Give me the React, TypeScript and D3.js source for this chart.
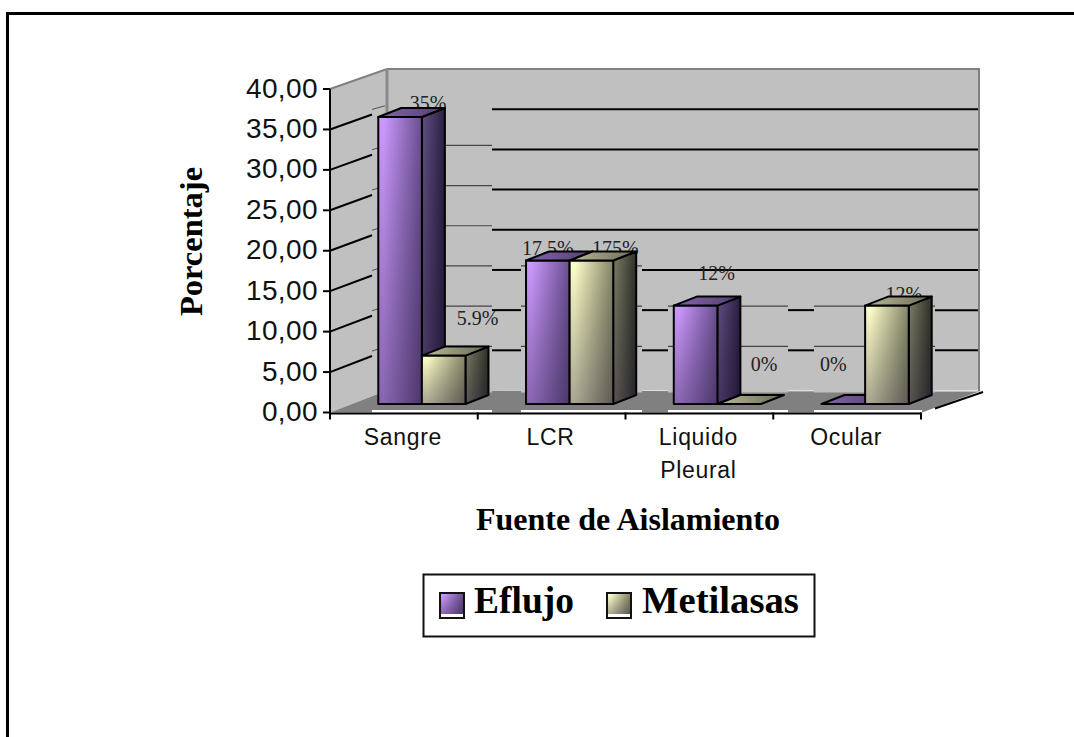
import React from "react";
import * as d3 from "d3";

// Chart data
const categories = ["Sangre", "LCR", "Liquido Pleural", "Ocular"];
const seriesNames = ["Eflujo", "Metilasas"];
const eflujoValues = [35, 17.5, 12, 0];
const metilasasValues = [5.9, 17.5, 0, 12];
const eflujoLabels = ["35%", "17.5%", "12%", "0%"];
const metilasasLabels = ["5.9%", "175%", "0%", "12%"];
const yTicks = [0, 5, 10, 15, 20, 25, 30, 35, 40];

const WIDTH = 1074;
const HEIGHT = 737;
const SERIF = "'Liberation Serif', 'Times New Roman', serif";
const SANS = "'Liberation Sans', Arial, sans-serif";

// Scales for the three planes of the 3-D box: front edge, back wall and bar fronts
const yAxis = d3.scaleLinear().domain([0, 40]).range([412.5, 89]);
const yWall = d3.scaleLinear().domain([0, 40]).range([390.5, 69]);
const yBar = d3.scaleLinear().domain([0, 40]).range([404, 76]);
const xAxis = d3.scaleBand<string>().domain(categories).range([330, 921]);
const xGroup = d3.scaleBand<string>().domain(categories).range([348, 939]).paddingInner(0.41).paddingOuter(0.205);
const xSeries = d3.scaleBand<string>().domain(seriesNames).range([0, xGroup.bandwidth()]);

const DEPTH_X = 23;
const DEPTH_Y = 9;
const WALL_LEFT = 387;
const WALL_RIGHT = 979;

// Floor and gridlines are broken into alternating strips across the plot
const thinStrips: [number, number][] = [[372, 492], [521, 642], [668, 788], [814, 935]];

const poly = d3.line<[number, number]>();
const closed = (pts: [number, number][]) => poly(pts) + "Z";

type Spec = { dx: number; lift: number };
// Where each value label sits relative to its bar
const eflujoLabelSpots: Spec[] = [{ dx: 28, lift: 7 }, { dx: 0, lift: 5.5 }, { dx: 21, lift: 25.5 }, { dx: -10, lift: 33 }];
const metilasasLabelSpots: Spec[] = [{ dx: 34, lift: 30.5 }, { dx: 24, lift: 5.5 }, { dx: 25, lift: 33 }, { dx: 17, lift: 5 }];

const palette = [
  { key: "e", a: "#cc99ff", b: "#6a4f90", sa: "#635085", sb: "#2a1f42", ta: "#8463ad", tb: "#54406f" },
  { key: "m", a: "#ffffcc", b: "#86866a", sa: "#80806a", sb: "#30302a", ta: "#b8b898", tb: "#6c6c58" },
];

function Defs() {
  return (
    <defs>
      {palette.map((p) => (
        <React.Fragment key={p.key}>
          <linearGradient id={`front-${p.key}`} x1="0" x2="1" y1="0" y2="0">
            <stop offset="0.12" stopColor={p.a} />
            <stop offset="1" stopColor={p.b} />
          </linearGradient>
          <linearGradient id={`side-${p.key}`} x1="0" x2="1" y1="0" y2="0">
            <stop offset="0" stopColor={p.sa} />
            <stop offset="1" stopColor={p.sb} />
          </linearGradient>
          <linearGradient id={`top-${p.key}`} x1="0" x2="1" y1="0" y2="0">
            <stop offset="0" stopColor={p.ta} />
            <stop offset="1" stopColor={p.tb} />
          </linearGradient>
        </React.Fragment>
      ))}
      <linearGradient id="shade" x1="0" x2="0" y1="0" y2="1">
        <stop offset="0" stopColor="#000" stopOpacity="0" />
        <stop offset="1" stopColor="#1a1030" stopOpacity="0.38" />
      </linearGradient>
    </defs>
  );
}

function Bar({ x, w, value, k }: { x: number; w: number; value: number; k: string }) {
  const top = yBar(value);
  const base = yBar(0);
  const front: [number, number][] = [[x, top], [x + w, top], [x + w, base], [x, base]];
  const side: [number, number][] = [[x + w, top], [x + w + DEPTH_X, top - DEPTH_Y], [x + w + DEPTH_X, base - DEPTH_Y], [x + w, base]];
  const cap: [number, number][] = [[x, top], [x + DEPTH_X, top - DEPTH_Y], [x + w + DEPTH_X, top - DEPTH_Y], [x + w, top]];
  return (
    <g stroke="#000" strokeWidth={2} strokeLinejoin="round">
      {value > 0 && (
        <>
          <path d={closed(side)} fill={`url(#side-${k})`} />
          <path d={closed(side)} fill="url(#shade)" stroke="none" />
          <path d={closed(front)} fill={`url(#front-${k})`} />
          <path d={closed(front)} fill="url(#shade)" stroke="none" />
        </>
      )}
      <path d={closed(cap)} fill={`url(#top-${k})`} />
    </g>
  );
}

export default function App() {
  const rows = [
    { name: seriesNames[0], k: "e", values: eflujoValues, labels: eflujoLabels, spots: eflujoLabelSpots },
    { name: seriesNames[1], k: "m", values: metilasasValues, labels: metilasasLabels, spots: metilasasLabelSpots },
  ];
  const grid = yTicks.filter((t) => t > 0 && t < 40);

  return (
    <svg width={WIDTH} height={HEIGHT} style={{ position: "absolute", left: 0, top: 0 }}>
      <Defs />
      <rect width={WIDTH} height={HEIGHT} fill="#fff" />
      {/* Outer frame: open on the right and at the bottom */}
      <path d={`M7.5 ${HEIGHT}V13.5H${WIDTH}`} fill="none" stroke="#000" strokeWidth={3} />

      {/* Walls */}
      <path d={closed([[330, yAxis(40)], [WALL_LEFT, yWall(40)], [WALL_LEFT, yWall(0)], [330, yAxis(0)]])} fill="#c0c0c0" />
      <rect x={WALL_LEFT} y={yWall(40)} width={WALL_RIGHT - WALL_LEFT} height={yWall(0) - yWall(40)} fill="#c0c0c0" />
      <path d={closed([[330, yAxis(0)], [WALL_LEFT, yWall(0)], [WALL_RIGHT, yWall(0) + 1], [922, yAxis(0)]])} fill="#808080" />
      {thinStrips.map(([a, b]) => (
        <g key={a}>
          <rect x={a} y={yWall(0) - 2} width={b - a} height={4} fill="#c0c0c0" />
          <rect x={a} y={yAxis(0) - 2.5} width={Math.min(b, 922) - a} height={2.5} fill="#fff" />
        </g>
      ))}
      <path d={`M330 ${yAxis(40)}L${WALL_LEFT} ${yWall(40)}H${WALL_RIGHT}V${yWall(0) + 1}`} fill="none" stroke="#808080" strokeWidth={2} />
      <path d={`M${WALL_LEFT} ${yWall(40)}V${yWall(0)}`} fill="none" stroke="#8a8a8a" strokeWidth={3} />

      {/* Gridlines on the side wall */}
      {grid.map((t) => {
        const x0 = 330;
        const y0 = yAxis(t);
        const yb = yWall(t);
        const at = (f: number) => y0 + (yb - y0) * f;
        return (
          <g key={t} fill="none">
            <path d={`M${x0} ${y0}L372 ${at(0.74)}`} stroke="#000" strokeWidth={2} />
            <path d={`M372 ${at(0.74) - 5}L385 ${at(0.97) - 4}`} stroke="#555" strokeWidth={1} />
          </g>
        );
      })}

      {/* Gridlines on the back wall */}
      {grid.map((t) => {
        const y = yWall(t);
        const strips = t <= 10 ? thinStrips.slice(1) : t === 15 ? thinStrips.slice(1, 2) : [];
        const thin = t < 35 ? [[443, 492] as [number, number], ...strips] : [];
        let cursor = 492;
        const thick: [number, number][] = [];
        strips.forEach(([a, b]) => {
          thick.push([cursor, a]);
          cursor = b;
        });
        thick.push([cursor, WALL_RIGHT - 1]);
        return (
          <g key={t} fill="none">
            {thick.map(([a, b]) => (
              <path key={a} d={`M${a} ${y}H${b}`} stroke="#000" strokeWidth={2} />
            ))}
            {thin.map(([a, b]) => (
              <path key={a} d={`M${a} ${y - 4}H${b}`} stroke="#444" strokeWidth={1.2} />
            ))}
          </g>
        );
      })}

      {/* Value labels sit behind the bars, which cover parts of them */}
      <g fontFamily={SERIF} fontSize={20} fill="#222" textAnchor="middle">
        {rows.map((r) =>
          categories.map((c, i) => (
            <text
              key={r.k + c}
              x={xGroup(c)! + xSeries(r.name)! + xSeries.bandwidth() / 2 + r.spots[i].dx}
              y={yBar(r.values[i]) - r.spots[i].lift}
            >
              {r.labels[i]}
            </text>
          )),
        )}
      </g>

      {/* Bars */}
      {categories.map((c, i) =>
        rows.map((r) => (
          <Bar key={r.k + c} x={xGroup(c)! + xSeries(r.name)!} w={xSeries.bandwidth()} value={r.values[i]} k={r.k} />
        )),
      )}

      {/* Axes */}
      <g stroke="#000" strokeWidth={2} fill="none">
        <path d={`M330 ${yAxis(40)}V${yAxis(0) + 1}H${xAxis.range()[1]}`} />
        <path d={`M935 408.5L983 392`} />
        {yTicks.map((t) => (
          <path key={t} d={`M323 ${yAxis(t)}H330`} />
        ))}
        {[...categories.map((c) => xAxis(c)!), xAxis.range()[1]].map((x) => (
          <path key={x} d={`M${x} ${yAxis(0)}V${yAxis(0) + 7}`} />
        ))}
      </g>
      <g fontFamily={SANS} fontSize={28} fill="#111" textAnchor="end" letterSpacing={0.4}>
        {yTicks.map((t) => (
          <text key={t} x={318} y={yAxis(t) + 8.5}>
            {d3.format(".2f")(t).replace(".", ",")}
          </text>
        ))}
      </g>
      <g fontFamily={SANS} fontSize={23} fill="#111" textAnchor="middle" letterSpacing={0.7}>
        {categories.map((c) => {
          const cx = xAxis(c)! + xAxis.bandwidth() / 2;
          const lines = c.split(" ");
          return lines.map((line, j) => (
            <text key={line} x={cx - 1} y={445 + j * 33}>
              {line}
            </text>
          ));
        })}
      </g>

      {/* Axis titles */}
      <text x={628} y={530} textAnchor="middle" fontFamily={SERIF} fontWeight="bold" fontSize={32} fill="#000">
        Fuente de Aislamiento
      </text>
      <text
        transform="translate(202,241.5) rotate(-90)"
        textAnchor="middle"
        fontFamily={SERIF}
        fontWeight="bold"
        fontSize={32.5}
        fill="#000"
      >
        Porcentaje
      </text>

      {/* Legend */}
      <rect x={423.5} y={574.5} width={391} height={62} fill="#fff" stroke="#111" strokeWidth={2} />
      {rows.map((r, i) => {
        const swatchX = [440, 607][i];
        return (
          <g key={r.k}>
            <rect x={swatchX} y={593} width={24} height={25} fill="#fff" stroke="#111" strokeWidth={2} />
            <rect x={swatchX + 1} y={594} width={22} height={20} fill={`url(#front-${r.k})`} />
            <rect x={swatchX + 1} y={594} width={22} height={20} fill="url(#shade)" />
            <text x={[474, 642][i]} y={613} fontFamily={SERIF} fontWeight="bold" fontSize={[37.5, 38.7][i]} fill="#000">
              {r.name}
            </text>
          </g>
        );
      })}
    </svg>
  );
}
